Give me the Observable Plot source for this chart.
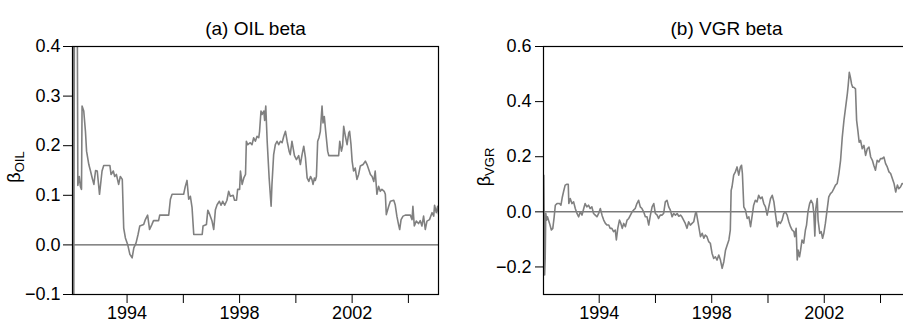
<!DOCTYPE html>
<html><head><meta charset="utf-8">
<script src="https://cdn.jsdelivr.net/npm/d3@7"></script>
<script src="https://cdn.jsdelivr.net/npm/@observablehq/plot@0.6"></script>
<style>
body{margin:0;background:#fff;overflow:hidden}
#wrap{position:relative;width:903px;height:322px;overflow:hidden;background:#fff}
#wrap svg{position:absolute;top:0}
</style></head><body><div id="wrap"></div>
<script>
const oilYear = [1992.07,1992.10,1992.14,1992.21,1992.25,1992.30,1992.34,1992.38,1992.40,1992.46,1992.52,1992.56,1992.64,1992.70,1992.76,1992.82,1992.88,1992.94,1993.02,1993.11,1993.17,1993.39,1993.43,1993.51,1993.56,1993.62,1993.70,1993.76,1993.83,1993.88,1993.94,1994.02,1994.10,1994.18,1994.24,1994.32,1994.39,1994.45,1994.59,1994.65,1994.73,1994.80,1994.88,1994.94,1995.12,1995.16,1995.48,1995.54,1995.60,1996.01,1996.07,1996.13,1996.19,1996.25,1996.31,1996.37,1996.67,1996.70,1996.82,1996.87,1996.94,1997.02,1997.08,1997.14,1997.20,1997.28,1997.34,1997.40,1997.47,1997.55,1997.61,1997.67,1997.77,1997.82,1997.89,1997.93,1998.00,1998.03,1998.09,1998.15,1998.21,1998.24,1998.29,1998.38,1998.44,1998.50,1998.56,1998.62,1998.68,1998.71,1998.76,1998.80,1998.86,1998.89,1998.93,1998.98,1999.05,1999.12,1999.15,1999.21,1999.27,1999.33,1999.39,1999.45,1999.51,1999.57,1999.63,1999.69,1999.76,1999.80,1999.86,1999.95,2000.02,2000.10,2000.16,2000.22,2000.28,2000.34,2000.40,2000.46,2000.52,2000.57,2000.61,2000.66,2000.69,2000.73,2000.775,2000.82,2000.87,2000.93,2000.965,2001.01,2001.06,2001.13,2001.17,2001.52,2001.56,2001.62,2001.66,2001.70,2001.76,2001.82,2001.88,2001.91,2001.96,2002.00,2002.05,2002.11,2002.17,2002.23,2002.29,2002.39,2002.47,2002.53,2002.59,2002.65,2002.71,2002.77,2002.82,2002.88,2002.94,2003.00,2003.06,2003.14,2003.18,2003.215,2003.30,2003.36,2003.48,2003.53,2003.59,2003.65,2003.69,2003.74,2003.81,2003.89,2004.07,2004.13,2004.16,2004.21,2004.28,2004.36,2004.42,2004.48,2004.54,2004.60,2004.66,2004.75,2004.84,2004.90,2004.93,2004.99,2005.04,2005.07];
const oilBeta = [0.50,-0.30,0.80,0.80,0.120,0.138,0.118,0.112,0.280,0.270,0.229,0.189,0.162,0.149,0.135,0.122,0.150,0.149,0.102,0.149,0.160,0.160,0.142,0.149,0.138,0.142,0.122,0.138,0.132,0.034,0.014,0.001,-0.019,-0.026,-0.006,0.004,0.021,0.038,0.041,0.051,0.060,0.031,0.041,0.049,0.049,0.060,0.060,0.092,0.102,0.102,0.118,0.130,0.092,0.098,0.075,0.021,0.021,0.038,0.041,0.070,0.061,0.048,0.031,0.071,0.081,0.088,0.080,0.088,0.080,0.090,0.108,0.098,0.100,0.090,0.090,0.112,0.112,0.149,0.122,0.135,0.142,0.209,0.202,0.206,0.202,0.216,0.209,0.219,0.216,0.229,0.270,0.263,0.270,0.251,0.280,0.209,0.135,0.078,0.122,0.182,0.202,0.209,0.202,0.209,0.206,0.219,0.229,0.209,0.189,0.182,0.209,0.180,0.172,0.180,0.162,0.182,0.199,0.176,0.135,0.128,0.138,0.132,0.122,0.135,0.130,0.138,0.209,0.216,0.229,0.280,0.246,0.259,0.229,0.189,0.180,0.180,0.209,0.189,0.199,0.239,0.219,0.202,0.226,0.229,0.202,0.169,0.149,0.155,0.132,0.142,0.159,0.162,0.169,0.162,0.152,0.142,0.138,0.128,0.149,0.102,0.118,0.108,0.112,0.108,0.102,0.061,0.078,0.088,0.090,0.081,0.058,0.041,0.031,0.051,0.058,0.060,0.060,0.051,0.078,0.038,0.048,0.043,0.049,0.038,0.058,0.031,0.048,0.051,0.065,0.058,0.080,0.065,0.078,0.062];
const vgrYear = [1992.03,1992.06,1992.08,1992.10,1992.13,1992.16,1992.235,1992.30,1992.35,1992.40,1992.44,1992.50,1992.59,1992.64,1992.69,1992.73,1992.79,1992.85,1992.90,1992.92,1992.97,1993.03,1993.09,1993.15,1993.21,1993.27,1993.33,1993.39,1993.45,1993.50,1993.56,1993.62,1993.68,1993.74,1993.80,1993.86,1993.92,1993.98,1994.04,1994.10,1994.16,1994.22,1994.28,1994.34,1994.39,1994.45,1994.51,1994.57,1994.61,1994.66,1994.72,1994.77,1994.82,1994.87,1994.93,1994.99,1995.05,1995.11,1995.17,1995.22,1995.28,1995.34,1995.40,1995.46,1995.52,1995.58,1995.64,1995.70,1995.76,1995.82,1995.88,1995.94,1995.995,1996.06,1996.11,1996.17,1996.23,1996.29,1996.35,1996.41,1996.47,1996.53,1996.59,1996.65,1996.71,1996.77,1996.83,1996.89,1996.94,1997.00,1997.06,1997.12,1997.18,1997.24,1997.30,1997.36,1997.42,1997.45,1997.50,1997.54,1997.60,1997.66,1997.72,1997.77,1997.83,1997.89,1997.95,1998.01,1998.07,1998.13,1998.19,1998.25,1998.31,1998.37,1998.43,1998.49,1998.55,1998.61,1998.66,1998.69,1998.72,1998.78,1998.84,1998.90,1998.96,1999.02,1999.06,1999.09,1999.14,1999.20,1999.26,1999.32,1999.38,1999.44,1999.49,1999.55,1999.61,1999.67,1999.73,1999.79,1999.85,1999.91,1999.97,2000.03,2000.09,2000.15,2000.21,2000.27,2000.33,2000.38,2000.44,2000.50,2000.56,2000.62,2000.68,2000.74,2000.80,2000.86,2000.92,2000.95,2001.00,2001.04,2001.07,2001.12,2001.15,2001.21,2001.27,2001.33,2001.37,2001.42,2001.48,2001.53,2001.59,2001.63,2001.665,2001.70,2001.75,2001.78,2001.84,2001.89,2001.94,2001.985,2002.04,2002.10,2002.16,2002.22,2002.28,2002.34,2002.40,2002.46,2002.52,2002.58,2002.64,2002.70,2002.76,2002.82,2002.85,2002.89,2002.93,2002.97,2003.01,2003.05,2003.11,2003.15,2003.195,2003.24,2003.29,2003.35,2003.41,2003.47,2003.53,2003.59,2003.65,2003.71,2003.76,2003.82,2003.88,2003.94,2004.00,2004.06,2004.12,2004.18,2004.24,2004.30,2004.36,2004.42,2004.48,2004.54,2004.60,2004.65,2004.71,2004.77,2004.85,2004.95,2005.02];
const vgrBeta = [0.133,-0.229,-0.17,-0.005,-0.03,-0.018,-0.042,-0.066,-0.060,-0.018,0.024,0.030,0.030,0.024,0.054,0.072,0.097,0.100,0.100,0.030,0.048,0.030,0.036,0.012,-0.006,-0.018,0.000,-0.012,0.012,0.030,0.018,0.024,0.012,0.018,-0.006,-0.012,-0.018,-0.006,0.012,-0.012,-0.030,-0.042,-0.048,-0.048,-0.060,-0.060,-0.072,-0.066,-0.102,-0.060,-0.030,-0.042,-0.060,-0.042,-0.054,-0.030,-0.024,-0.012,0.000,0.006,0.012,0.030,0.042,0.018,0.012,0.000,-0.018,-0.018,-0.048,-0.012,0.018,0.030,-0.006,-0.012,-0.024,-0.012,-0.012,-0.006,0.036,0.042,0.018,0.006,-0.018,-0.006,-0.012,-0.006,-0.016,-0.012,-0.018,-0.030,-0.042,-0.060,-0.036,-0.048,-0.042,-0.036,-0.006,0.000,-0.030,-0.054,-0.090,-0.078,-0.096,-0.084,-0.090,-0.108,-0.114,-0.150,-0.169,-0.163,-0.175,-0.157,-0.175,-0.205,-0.181,-0.139,-0.120,-0.102,-0.066,0.078,0.090,0.133,0.145,0.163,0.133,0.163,0.169,0.139,0.018,0.006,-0.024,-0.018,-0.054,-0.012,0.024,0.042,0.036,0.060,0.048,0.054,0.030,0.018,-0.012,0.018,0.048,0.060,0.036,-0.012,-0.054,-0.036,-0.042,-0.030,-0.006,0.000,-0.012,-0.036,-0.054,-0.066,-0.072,-0.090,-0.060,-0.175,-0.139,-0.163,-0.145,-0.102,-0.114,-0.066,-0.048,0.000,0.030,0.042,0.030,-0.006,-0.088,0.012,0.048,-0.030,-0.078,-0.072,-0.096,-0.078,-0.042,0.006,0.054,0.066,0.072,0.084,0.097,0.103,0.139,0.187,0.271,0.332,0.380,0.428,0.458,0.506,0.488,0.464,0.452,0.452,0.446,0.332,0.295,0.253,0.259,0.229,0.241,0.205,0.229,0.235,0.199,0.187,0.169,0.151,0.187,0.181,0.193,0.193,0.199,0.175,0.163,0.145,0.139,0.121,0.103,0.072,0.097,0.084,0.090,0.103,0.100,0.110,0.100];
const xTicks = [1994, 1996, 1998, 2000, 2002, 2004];
const xLabels = ["1994", "", "1998", "", "2002", ""];
const oilTicks = [-0.1, 0, 0.1, 0.2, 0.3, 0.4];
const vgrTicks = [-0.2, 0, 0.2, 0.4, 0.6];

const FONT = "'Liberation Sans', Arial, Helvetica, sans-serif";
const wrap = document.getElementById("wrap");

function panel(o) {
  const data = o.years.map((t, i) => ({t, b: o.betas[i]}));
  const svg = Plot.plot({
    width: o.width, height: 322,
    marginLeft: o.marginLeft, marginRight: 22, marginTop: 46, marginBottom: 28,
    style: {fontFamily: FONT, fontSize: "18px", color: "#000", background: "transparent", overflow: "visible"},
    x: {domain: o.xDomain, ticks: xTicks, tickFormat: d => xLabels[xTicks.indexOf(d)], tickSize: 9, tickPadding: 3, label: null},
    y: {domain: o.yDomain, ticks: o.yTicks, tickFormat: d3.format(".1f"), tickSize: o.tickSize, tickPadding: o.tickPadding, label: null},
    marks: [
      Plot.ruleY([0], {stroke: "#3a3a3a", strokeWidth: 1}),
      Plot.line(data, {x: "t", y: "b", stroke: "#808080", strokeWidth: 1.6, clip: true}),
      Plot.frame({stroke: "#000", strokeWidth: 1.2}),
      Plot.text([o.title], {frameAnchor: "top", dy: -25, fontSize: 19, fill: "#000"})
    ]
  });
  svg.style.left = o.left + "px";
  const lab = d3.select(svg).append("text")
    .attr("transform", `translate(${o.labelX},167) rotate(-90)`)
    .attr("text-anchor", "middle")
    .attr("font-family", FONT)
    .attr("font-size", 18)
    .attr("fill", "#000");
  lab.append("tspan").text("β");
  lab.append("tspan").attr("font-size", 13).attr("dy", 4).text(o.sub);
  wrap.appendChild(svg);
}

panel({years: oilYear, betas: oilBeta, xDomain: [1992.06, 2005.07], yDomain: [-0.1, 0.4], yTicks: oilTicks,
  title: "(a) OIL beta", sub: "OIL", left: 0, marginLeft: 72, width: 460, labelX: 20, tickSize: 9, tickPadding: 3});
panel({years: vgrYear, betas: vgrBeta, xDomain: [1992.02, 2005.03], yDomain: [-0.3, 0.6], yTicks: vgrTicks,
  title: "(b) VGR beta", sub: "VGR", left: 460, marginLeft: 83, width: 471, labelX: 30, tickSize: 8, tickPadding: 4});
</script></body></html>
